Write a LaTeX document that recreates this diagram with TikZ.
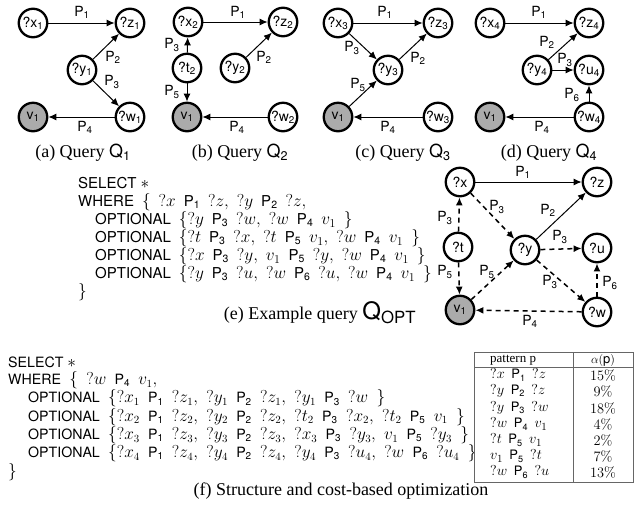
\documentclass[tikz,border=0pt]{standalone}
\usepackage[no-math]{fontspec}
\setmainfont{Liberation Serif}
\setsansfont{TeX Gyre Heros}
\usetikzlibrary{arrows.meta}
\newcommand\Pp[1]{\textsf{P\textsubscript{#1}}}
\newlength\qsp
\def\qsz{17.5}
\newcommand\q[1]{{\fontsize{\qsz}{10}\selectfont$#1$}}
\newcommand\s{\hspace{\qsp}}
\newcommand\qset[2]{\global\qsp=#2\relax\gdef\qsz{#1}}
\begin{document}
\begin{tikzpicture}[x=1pt,y=-1pt,
 vnode/.style={circle,draw,line width=2.3pt,minimum size=28.5pt,inner sep=0pt,fill=white,font=\sffamily\fontsize{14}{16}\selectfont},
 cnode/.style={vnode,fill=black!33},
 arr/.style={line width=1pt,-{Latex[length=8pt,width=7pt]}},
 darr/.style={arr,line width=1.5pt,dash pattern=on 5pt off 4pt},
 plab/.style={font=\sffamily\fontsize{14}{16}\selectfont,inner sep=0pt},
 capt/.style={font=\fontsize{18}{20}\selectfont,inner sep=0pt},
 codeblk/.style={font=\sffamily\fontsize{15}{18}\selectfont,align=left,inner sep=0pt,anchor=north west},
 tabtxt/.style={font=\sffamily\fontsize{13}{15}\selectfont,inner sep=0pt},
 tabline/.style={draw=black!60,line width=0.9pt}]
\useasboundingbox (0,0) rectangle (637,515);
% ---------- Q1
\node[vnode] (x1) at (33,23) {?x\textsubscript{1}};
\node[vnode] (z1) at (130,23) {?z\textsubscript{1}};
\node[vnode] (y1) at (82,70) {?y\textsubscript{1}};
\node[vnode] (w1) at (130,117) {?w\textsubscript{1}};
\node[cnode] (va) at (33,117) {v\textsubscript{1}};
\draw[arr] (x1) -- (z1);
\draw[arr] (y1) -- (z1);
\draw[arr] (y1) -- (w1);
\draw[arr] (w1) -- (va);
\node[plab] (la1) at (82,12) {\Pp1};
\node[plab] (la2) at (113,57) {\Pp2};
\node[plab] (la3) at (112,82) {\Pp3};
\node[plab] (la4) at (85,127) {\Pp4};
\node[capt] (ca) at (83,153) {(a) Query \textsf{Q\textsubscript{1}}};
% ---------- Q2
\node[vnode] (x2) at (188,22) {?x\textsubscript{2}};
\node[vnode] (z2) at (283,22) {?z\textsubscript{2}};
\node[vnode] (t2) at (187,68) {?t\textsubscript{2}};
\node[vnode] (y2) at (235,68) {?y\textsubscript{2}};
\node[cnode] (vb) at (187,117) {v\textsubscript{1}};
\node[vnode] (w2) at (283,117) {?w\textsubscript{2}};
\draw[arr] (x2) -- (z2);
\draw[arr] (y2) -- (z2);
\draw[arr] (t2) -- (x2);
\draw[arr] (t2) -- (vb);
\draw[arr] (w2) -- (vb);
\node[plab] (lb1) at (238,12) {\Pp1};
\node[plab] (lb3) at (172,45) {\Pp3};
\node[plab] (lb2) at (264,57) {\Pp2};
\node[plab] (lb5) at (172,92) {\Pp5};
\node[plab] (lb4) at (237,127) {\Pp4};
\node[capt] (cb) at (240,153) {(b) Query \textsf{Q\textsubscript{2}}};
% ---------- Q3
\node[vnode] (x3) at (338,23) {?x\textsubscript{3}};
\node[vnode] (z3) at (438,23) {?z\textsubscript{3}};
\node[vnode] (y3) at (388,70) {?y\textsubscript{3}};
\node[cnode] (vc) at (338,117) {v\textsubscript{1}};
\node[vnode] (w3) at (438,117) {?w\textsubscript{3}};
\draw[arr] (x3) -- (z3);
\draw[arr] (x3) -- (y3);
\draw[arr] (y3) -- (z3);
\draw[arr] (vc) -- (y3);
\draw[arr] (w3) -- (vc);
\node[plab] (lc1) at (385,12) {\Pp1};
\node[plab] (lc3) at (352,48) {\Pp3};
\node[plab] (lc2) at (418,58) {\Pp2};
\node[plab] (lc5) at (358,85) {\Pp5};
\node[plab] (lc4) at (388,127) {\Pp4};
\node[capt] (cc) at (403,153) {(c) Query \textsf{Q\textsubscript{3}}};
% ---------- Q4
\node[vnode] (x4) at (490,23) {?x\textsubscript{4}};
\node[vnode] (z4) at (589,23) {?z\textsubscript{4}};
\node[vnode] (y4) at (537,70) {?y\textsubscript{4}};
\node[vnode] (u4) at (589,70) {?u\textsubscript{4}};
\node[cnode] (vd) at (490,117) {v\textsubscript{1}};
\node[vnode] (w4) at (589,117) {?w\textsubscript{4}};
\draw[arr] (x4) -- (z4);
\draw[arr] (y4) -- (z4);
\draw[arr] (y4) -- (u4);
\draw[arr] (w4) -- (u4);
\draw[arr] (w4) -- (vd);
\node[plab] (ld1) at (539,12) {\Pp1};
\node[plab] (ld2) at (547,42) {\Pp2};
\node[plab] (ld3) at (565,60) {\Pp3};
\node[plab] (ld6) at (572,95) {\Pp6};
\node[plab] (ld4) at (542,127) {\Pp4};
\node[capt] (cd) at (549,153) {(d) Query \textsf{Q\textsubscript{4}}};
% ---------- (e) code
\node[codeblk] (codee) at (78,177) {\qset{17}{8pt}SELECT \q{*}\\
WHERE\s\q{\{}\s\q{?x}\s\Pp1\s\q{?z,}\s\q{?y}\s\Pp2\s\q{?z,}\\
\hspace*{17pt}OPTIONAL\s\q{\{?y}\s\Pp3\s\q{?w,}\s\q{?w}\s\Pp4\s\q{v_1}\s\q{\}}\\
\hspace*{17pt}OPTIONAL\s\q{\{?t}\s\Pp3\s\q{?x,}\s\q{?t}\s\Pp5\s\q{v_1,}\s\q{?w}\s\Pp4\s\q{v_1}\s\q{\}}\\
\hspace*{17pt}OPTIONAL\s\q{\{?x}\s\Pp3\s\q{?y,}\s\q{v_1}\s\Pp5\s\q{?y,}\s\q{?w}\s\Pp4\s\q{v_1}\s\q{\}}\\
\hspace*{17pt}OPTIONAL\s\q{\{?y}\s\Pp3\s\q{?u,}\s\q{?w}\s\Pp6\s\q{?u,}\s\q{?w}\s\Pp4\s\q{v_1}\s\q{\}}\\
\q{\}}};
% ---------- (e) graph
\node[vnode] (X) at (460,182) {?x};
\node[vnode] (Z) at (597,182) {?z};
\node[vnode] (T) at (458,247) {?t};
\node[vnode] (Y) at (525,250) {?y};
\node[vnode] (U) at (597,248) {?u};
\node[cnode] (V) at (460,310) {v\textsubscript{1}};
\node[vnode] (W) at (597,312) {?w};
\draw[arr] (X) -- (Z);
\draw[arr] (Y) -- (Z);
\draw[darr] (X) -- (Y);
\draw[darr] (T) -- (X);
\draw[darr] (T) -- (V);
\draw[darr] (V) -- (Y);
\draw[darr] (Y) -- (U);
\draw[darr] (Y) -- (W);
\draw[darr] (W) -- (U);
\draw[darr] (W) -- (V);
\node[plab] (le1) at (523,172) {\Pp1};
\node[plab] (le3a) at (497,207) {\Pp3};
\node[plab] (le2) at (548,210) {\Pp2};
\node[plab] (le3b) at (445,218) {\Pp3};
\node[plab] (le3c) at (560,237) {\Pp3};
\node[plab] (le5a) at (445,272) {\Pp5};
\node[plab] (le5b) at (487,272) {\Pp5};
\node[plab] (le3d) at (550,282) {\Pp3};
\node[plab] (le6) at (610,283) {\Pp6};
\node[plab] (le4) at (530,321) {\Pp4};
\node[capt] (ce) at (320,313) {(e) Example query {\sffamily\fontsize{24}{26}\selectfont Q\textsubscript{OPT}}};
% ---------- (f) code
\node[codeblk,font=\sffamily\fontsize{14.2}{16.8}\selectfont] (codef) at (8,357) {\qset{16}{8.3pt}SELECT \q{*}\\
WHERE\s\q{\{}\s\q{?w}\s\Pp4\s\q{v_1,}\\
\hspace*{20pt}OPTIONAL\s\q{\{?x_1}\s\Pp1\s\q{?z_1,}\s\q{?y_1}\s\Pp2\s\q{?z_1,}\s\q{?y_1}\s\Pp3\s\q{?w}\s\q{\}}\\
\hspace*{20pt}OPTIONAL\s\q{\{?x_2}\s\Pp1\s\q{?z_2,}\s\q{?y_2}\s\Pp2\s\q{?z_2,}\s\q{?t_2}\s\Pp3\s\q{?x_2,}\s\q{?t_2}\s\Pp5\s\q{v_1}\s\q{\}}\\
\hspace*{20pt}OPTIONAL\s\q{\{?x_3}\s\Pp1\s\q{?z_3,}\s\q{?y_3}\s\Pp2\s\q{?z_3,}\s\q{?x_3}\s\Pp3\s\q{?y_3,}\s\q{v_1}\s\Pp5\s\q{?y_3}\s\q{\}}\\
\hspace*{20pt}OPTIONAL\s\q{\{?x_4}\s\Pp1\s\q{?z_4,}\s\q{?y_4}\s\Pp2\s\q{?z_4,}\s\q{?y_4}\s\Pp3\s\q{?u_4,}\s\q{?w}\s\Pp6\s\q{?u_4}\s\q{\}}\\
\q{\}}};
% ---------- table
\path[tabline,fill=white] (474,352) rectangle (633,482);
\draw[tabline] (474,367) -- (633,367);
\draw[tabline] (573,352) -- (573,482);
\node[tabtxt,font=\rmfamily\fontsize{13}{15}\selectfont,anchor=west] (h1) at (490,360) {pattern p};
\node[tabtxt,font=\rmfamily\fontsize{13}{15}\selectfont] (h2) at (603,360) {$\alpha($\textsf{p}$)$};
\node[tabtxt,anchor=west] (r1) at (490,375) {\qset{15.5}{6.5pt}\q{?x}\s\Pp1\s\q{?z}};
\node[tabtxt,anchor=west] (r2) at (490,391) {\q{?y}\s\Pp2\s\q{?z}};
\node[tabtxt,anchor=west] (r3) at (490,408) {\q{?y}\s\Pp3\s\q{?w}};
\node[tabtxt,anchor=west] (r4) at (490,424) {\q{?w}\s\Pp4\s\q{v_1}};
\node[tabtxt,anchor=west] (r5) at (490,440) {\q{?t}\s\Pp5\s\q{v_1}};
\node[tabtxt,anchor=west] (r6) at (490,456) {\q{v_1}\s\Pp5\s\q{?t}};
\node[tabtxt,anchor=west] (r7) at (490,472) {\q{?w}\s\Pp6\s\q{?u}};
\node[tabtxt,font=\fontsize{14}{15}\selectfont] (p1) at (603,375) {$15\%$};
\node[tabtxt,font=\fontsize{14}{15}\selectfont] (p2) at (603,391) {$9\%$};
\node[tabtxt,font=\fontsize{14}{15}\selectfont] (p3) at (603,408) {$18\%$};
\node[tabtxt,font=\fontsize{14}{15}\selectfont] (p4) at (603,424) {$4\%$};
\node[tabtxt,font=\fontsize{14}{15}\selectfont] (p5) at (603,440) {$2\%$};
\node[tabtxt,font=\fontsize{14}{15}\selectfont] (p6) at (603,456) {$7\%$};
\node[tabtxt,font=\fontsize{14}{15}\selectfont] (p7) at (603,472) {$13\%$};
\node[capt] (cf) at (341,491) {(f) Structure and cost-based optimization};
\end{tikzpicture}
\end{document}
